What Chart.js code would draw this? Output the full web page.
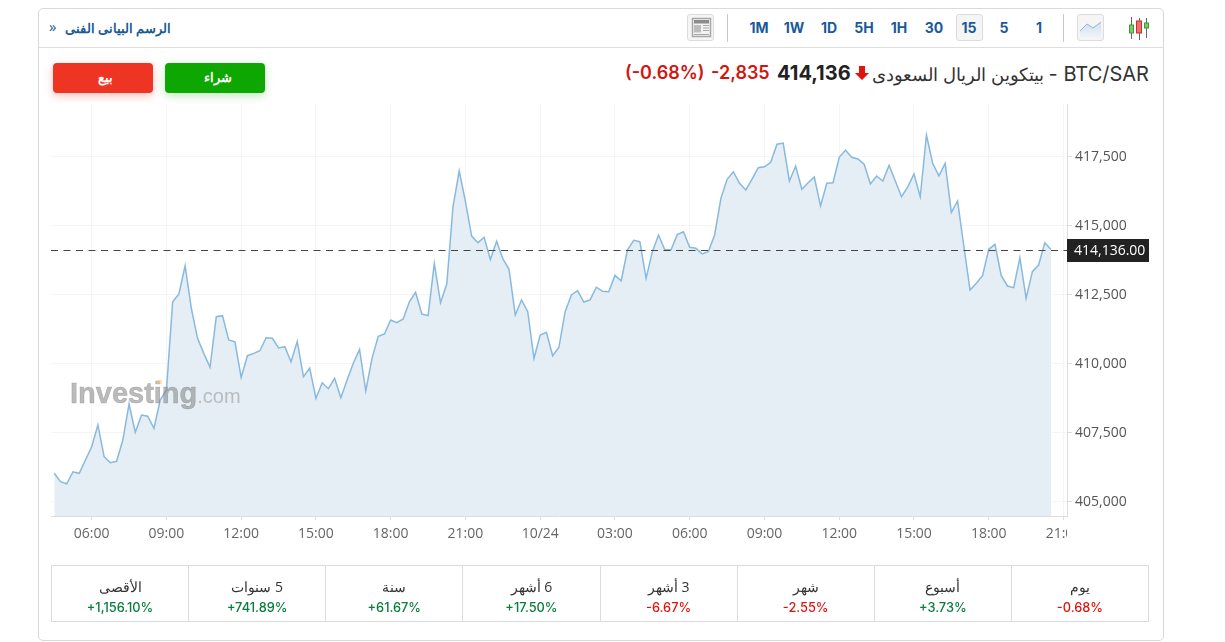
<!DOCTYPE html>
<html lang="ar">
<head>
<meta charset="utf-8">
<title>BTC/SAR</title>
<script src="https://cdn.jsdelivr.net/npm/chart.js@4"></script>
<style>
  html, body { margin: 0; padding: 0; background: #fff; }
  body { width: 1225px; height: 642px; position: relative; overflow: hidden;
         font-family: "Open Sans", "Noto Sans", sans-serif; color: #333; }
  .card { position: absolute; left: 38px; top: 8px; width: 1124px; height: 631px;
          border: 1px solid #d9d9d9; border-radius: 5px; box-sizing: content-box; }
  .rule { position: absolute; left: 39px; top: 47px; width: 1124px; height: 1px; background: #dedede; }
  .abs { position: absolute; white-space: nowrap; }
  .tech { left: 65px; top: 20px; font-size: 12.5px; font-weight: 700; color: #1a5a96; direction: rtl; }
  .chev { left: 49px; top: 16px; font-size: 15px; color: #1a5a96; }
  .btn { position: absolute; top: 63px; width: 100px; height: 30px; border-radius: 4px; color: #fff;
         font-size: 12.5px; font-weight: 700; text-align: center; line-height: 29px; }
  .sell { left: 53px; background: #ee3524; box-shadow: 0 3px 8px rgba(238,53,36,.3); text-indent: 4px; }
  .buy { left: 165px; background: #0ea600; box-shadow: 0 3px 8px rgba(14,166,0,.25); text-indent: 6px; }
  .period { position: absolute; top: 14px; height: 27px; line-height: 27px; width: 27px; text-align: center;
            font-size: 14px; font-weight: 700; color: #1a5a96; font-family: Inter, "Open Sans", sans-serif; }
  .period.on { background: #f5f5f5; border: 1px solid #dcdcdc; border-radius: 3px; width: 25px; height: 25px; line-height: 25px; }
  .vsep { position: absolute; top: 14px; width: 1px; height: 28px; background: #c8c8c8; }
  .iconbox { position: absolute; top: 14px; width: 25px; height: 25px; background: #f5f5f5;
             border: 1px solid #dcdcdc; border-radius: 3px; }
  canvas#priceChart { position: absolute; left: 0; top: 0; }
  .mark { position: absolute; left: 70px; top: 376px; font-family: "Liberation Sans", sans-serif; white-space: nowrap;
          color: rgba(120,120,120,.5); pointer-events: none; line-height: 34px; }
  .mark b { font-size: 29px; font-weight: 700; -webkit-text-stroke: .5px rgba(120,120,120,.5); }
  .mark span { font-size: 20px; color: rgba(140,140,140,.5); }
  .mark i { position: absolute; left: 87px; top: 4px; width: 5px; height: 4px; background: rgba(250,200,120,.55); }
  table.perf { position: absolute; left: 51px; top: 565px; width: 1098px; height: 57px; border-collapse: collapse;
               table-layout: fixed; text-align: center; }
  table.perf td { border: 1px solid #dcdcdc; padding: 10px 0 0; vertical-align: top; box-sizing: border-box; }
  table.perf .t { display: block; font-size: 14px; color: #333; line-height: 21px; direction: rtl; }
  table.perf .v { display: block; font-size: 12.8px; font-weight: 500; line-height: 21px; font-family: Inter, sans-serif; }
  .up { color: #0a7d3c; } .down { color: #e0140f; }
  .latinName { font-size: 20px; }
</style>
</head>
<body>
<div class="card"></div>
<div class="rule"></div>

<div class="abs chev">»</div>
<div class="abs tech">الرسم البيانى الفنى</div>
<div class="btn sell">بيع</div>
<div class="btn buy">شراء</div>

<!-- layout icon -->
<div class="iconbox" style="left:687px">
  <svg width="25" height="25" viewBox="0 0 25 25">
    <rect x="4.5" y="3.5" width="18" height="18" fill="#f3f3f3" stroke="#a8a8a8" stroke-width="1.5"/>
    <rect x="6" y="5" width="15" height="3.5" fill="#8c8c8c"/>
    <rect x="6" y="10" width="7" height="7.5" fill="#bdbdbd"/>
    <path d="M15 10.5H21M15 13H21M15 15.5H21M6 19.5H21" stroke="#a8a8a8" fill="none"/>
  </svg>
</div>
<div class="vsep" style="left:727px"></div>

<div id="periods"></div>

<div class="vsep" style="left:1063px"></div>
<!-- area chart icon -->
<div class="iconbox" style="left:1077px">
  <svg width="25" height="25" viewBox="0 0 25 25">
    <defs><linearGradient id="areaFade" x1="0" y1="0" x2="0" y2="1">
      <stop offset="0" stop-color="#cfe0ef"/><stop offset="1" stop-color="#eef3f8"/>
    </linearGradient></defs>
    <path d="M2 16 L9 9 L15 13 L23 7 V22 H2 Z" fill="url(#areaFade)"/>
    <path d="M2 16 L9 9 L15 13 L23 7" fill="none" stroke="#8fb6d9"/>
  </svg>
</div>
<!-- candlestick icon -->
<svg class="abs" style="left:1128px;top:16px" width="24" height="25" viewBox="0 0 24 25">
  <path d="M3.5 1V23M11.5 2V24M18.5 2V22" stroke="#666" fill="none"/>
  <rect x="1.5" y="9" width="4" height="8" fill="#7cc86a" stroke="#3f9a33"/>
  <rect x="8.5" y="5" width="5" height="12" fill="#f07070" stroke="#c9302a"/>
  <rect x="16.5" y="7" width="4" height="5" fill="#7cc86a" stroke="#3f9a33"/>
</svg>

<div class="abs" id="nameLine" style="right:76px;top:62px;font-size:17.6px;color:#333;direction:rtl;font-family:Inter,'Open Sans',sans-serif"><span class="latinName">BTC/SAR -</span> بيتكوين الريال السعودى</div>
<svg class="abs" style="left:855px;top:66px" width="14" height="14" viewBox="0 0 14 14"><path d="M4 0H10V7H14L7 14L0 7H4Z" fill="#e0140f"/></svg>
<div class="abs" style="left:777px;top:61px;font-size:20px;font-weight:700;color:#222;font-family:Inter,sans-serif">414,136</div>
<div class="abs" style="left:711px;top:62px;font-size:18px;font-weight:600;color:#d2150f;font-family:Inter,sans-serif">-2,835</div>
<div class="abs" style="left:625px;top:62px;font-size:18px;font-weight:600;color:#d2150f;font-family:Inter,sans-serif">(-0.68%)</div>

<canvas id="priceChart" width="1225" height="642"></canvas>
<div class="mark"><b>Investing</b><span>.com</span><i></i></div>

<table class="perf"><tr id="perfRow"></tr></table>

<script>
// BTC/SAR close prices, one reading every 15 minutes from 04:30
const prices = [
  406030, 405725, 405650, 406085, 406030, 406510, 406990, 407780, 406630, 406415,
  406465, 407235, 408540, 407515, 408140, 408095, 407660, 408685, 409045, 412245,
  412525, 413550, 412005, 410920, 410375, 409870, 411705, 411740, 410860, 410795,
  409505, 410290, 410375, 410470, 410940, 410920, 410570, 410615, 410070, 410810,
  409530, 409845, 408745, 409310, 409095, 409470, 408770, 409410, 410015, 410520,
  409020, 410195, 410990, 411075, 411585, 411485, 411620, 412245, 412585, 411800,
  411740, 413635, 412210, 412885, 415690, 416990, 415870, 414625, 414385, 414580,
  413780, 414435, 413805, 413420, 411765, 412310, 411885, 410195, 411040, 411135,
  410290, 410595, 411885, 412490, 412645, 412235, 412310, 412770, 412625, 412610,
  413200, 413005, 414120, 414470, 414420, 413095, 414060, 414665, 414130, 414130,
  414675, 414780, 414215, 414180, 413975, 414070, 414665, 415990, 416680, 416955,
  416535, 416295, 416690, 417100, 417135, 417295, 417950, 417995, 416620, 417160,
  416320, 416555, 416765, 415715, 416535, 416555, 417480, 417740, 417480, 417415,
  417225, 416510, 416800, 416620, 417190, 416620, 416050, 416410, 416875, 416050,
  418285, 417260, 416810, 417260, 415485, 415895, 414265, 412670, 412915, 413190,
  414145, 414325, 413200, 412815, 412755, 413840, 412370, 413335, 413575, 414385,
  414136
];
const lastPrice = 414136;
const firstHour = 4.5;   // hour of the first reading
const hoursPerReading = 0.25;

const timeTickHours  = [6, 9, 12, 15, 18, 21, 24, 27, 30, 33, 36, 39, 42, 45];
const timeTickLabels = ["06:00", "09:00", "12:00", "15:00", "18:00", "21:00", "10/24",
                        "03:00", "06:00", "09:00", "12:00", "15:00", "18:00", "21:00"];
const priceTicks = [405000, 407500, 410000, 412500, 415000, 417500];

const periodLabels = ["1M", "1W", "1D", "5H", "1H", "30", "15", "5", "1"];
const periodCentres = [759, 794, 829, 864, 899, 934, 969, 1004, 1039];
const activePeriod = "15";

const perfTitles = ["الأقصى", "5 سنوات", "سنة", "6 أشهر", "3 أشهر", "شهر", "أسبوع", "يوم"];
const perfValues = ["+1,156.10%", "+741.89%", "+61.67%", "+17.50%", "-6.67%", "-2.55%", "+3.73%", "-0.68%"];

// Toolbar and change table
const periodsEl = document.getElementById("periods");
periodLabels.forEach((p, i) => {
  const d = document.createElement("div");
  d.className = "period" + (p === activePeriod ? " on" : "");
  d.style.left = (periodCentres[i] - 13.5) + "px";
  d.textContent = p;
  periodsEl.appendChild(d);
});
const row = document.getElementById("perfRow");
perfTitles.forEach((t, i) => {
  const td = document.createElement("td");
  const cls = perfValues[i][0] === "+" ? "up" : "down";
  td.innerHTML = '<span class="t">' + t + '</span><span class="v ' + cls + '">' + perfValues[i] + '</span>';
  row.appendChild(td);
});

// Last-price line and tag, drawn over the series
const lastPriceMarker = {
  id: "lastPriceMarker",
  afterDraw(chart) {
    const { ctx, chartArea: a, scales: { y } } = chart;
    ctx.save();
    const py = Math.round(y.getPixelForValue(lastPrice)) + 0.5;
    ctx.strokeStyle = "#444";
    ctx.lineWidth = 1;
    ctx.setLineDash([7, 5.5]);
    ctx.beginPath(); ctx.moveTo(a.left, py); ctx.lineTo(a.right, py); ctx.stroke();
    ctx.setLineDash([]);
    ctx.fillStyle = "#222";
    ctx.fillRect(a.right, py - 11.5, 82, 23);
    ctx.fillStyle = "#fff";
    ctx.font = '14px "Open Sans", sans-serif';
    ctx.textAlign = "left";
    ctx.textBaseline = "middle";
    ctx.fillText(lastPrice.toLocaleString("en-US") + ".00", a.right + 7, py + 0.5);
    // the last time label is cut by the axis edge
    ctx.fillStyle = "#fff";
    ctx.fillRect(a.right, a.bottom + 6, 20, 30);
    ctx.restore();
  }
};

new Chart(document.getElementById("priceChart"), {
  type: "line",
  data: {
    datasets: [{
      data: prices.map((p, i) => ({ x: firstHour + i * hoursPerReading, y: p })),
      borderColor: "rgba(110,170,215,0.8)",
      borderWidth: 1.5,
      backgroundColor: "#e5eef5",
      fill: "start",
      pointRadius: 0,
      tension: 0
    }]
  },
  plugins: [lastPriceMarker],
  options: {
    responsive: false,
    animation: false,
    layout: { padding: { left: 51, top: 104, right: 76, bottom: 102 } },
    plugins: { legend: { display: false }, tooltip: { enabled: false } },
    scales: {
      x: {
        type: "linear",
        min: 4.368,
        max: 45.14,
        afterBuildTicks(scale) { scale.ticks = timeTickHours.map(v => ({ value: v })); },
        afterFit(scale) { scale.height = 24; },
        grid: { color: "#f5f5f5", tickColor: "#dddddd", tickLength: 4 },
        border: { color: "#dddddd" },
        ticks: {
          autoSkip: false, maxRotation: 0, color: "#666", padding: 6,
          font: { family: '"Open Sans", sans-serif', size: 14 },
          callback(v) { return timeTickLabels[timeTickHours.indexOf(v)]; }
        }
      },
      y: {
        position: "right",
        min: 404482,
        max: 419409,
        afterBuildTicks(scale) { scale.ticks = priceTicks.map(v => ({ value: v })); },
        afterFit(scale) { scale.width = 82; },
        grid: { color: "#f5f5f5", tickColor: "#dddddd", tickLength: 5 },
        border: { color: "#dddddd" },
        ticks: {
          color: "#555", padding: 3,
          font: { family: '"Open Sans", sans-serif', size: 14 },
          callback(v) { return v.toLocaleString("en-US"); }
        }
      }
    }
  }
});
</script>
</body>
</html>
